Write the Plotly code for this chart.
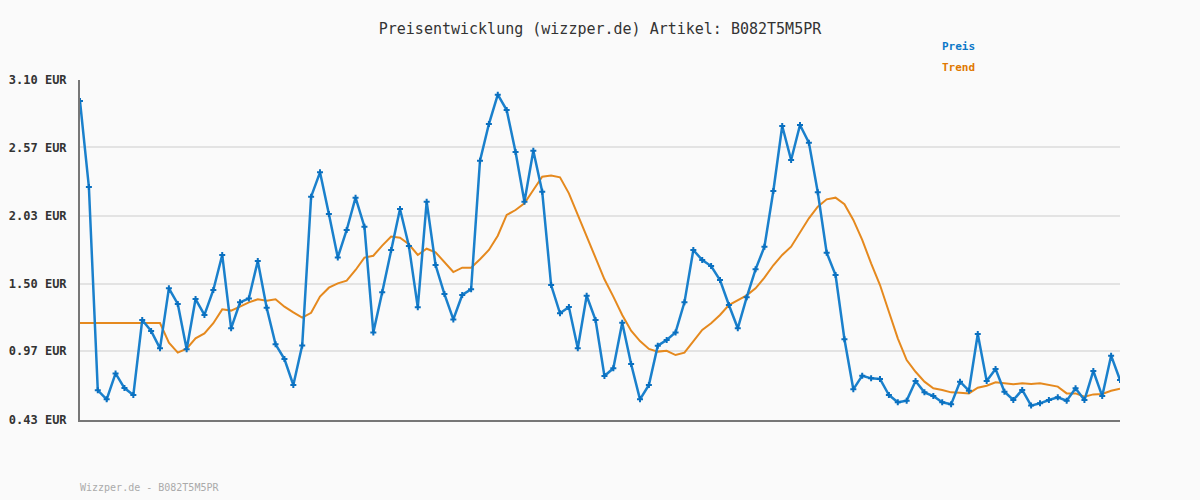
import plotly.graph_objects as go

preis = [2.935, 2.26, 0.663, 0.592, 0.796, 0.681, 0.626, 1.215, 1.129, 0.993,
         1.464, 1.341, 0.985, 1.38, 1.255, 1.451, 1.726, 1.15, 1.354, 1.385,
         1.679, 1.312, 1.024, 0.909, 0.705, 1.016, 2.184, 2.375, 2.048, 1.707,
         1.922, 2.176, 1.948, 1.118, 1.433, 1.765, 2.087, 1.796, 1.315, 2.144,
         1.647, 1.419, 1.22, 1.412, 1.456, 2.466, 2.754, 2.985, 2.864, 2.535,
         2.144, 2.545, 2.223, 1.49, 1.268, 1.317, 0.993, 1.406, 1.215, 0.776,
         0.836, 1.194, 0.87, 0.592, 0.705, 1.014, 1.058, 1.118, 1.354, 1.765,
         1.686, 1.639, 1.529, 1.333, 1.15, 1.393, 1.613, 1.791, 2.228, 2.739,
         2.472, 2.747, 2.608, 2.218, 1.744, 1.569, 1.064, 0.671, 0.778, 0.757,
         0.752, 0.626, 0.569, 0.582, 0.736, 0.647, 0.618, 0.569, 0.553, 0.731,
         0.66, 1.105, 0.736, 0.83, 0.652, 0.587, 0.666, 0.543, 0.561, 0.587,
         0.608, 0.582, 0.679, 0.587, 0.815, 0.618, 0.935, 0.744]

trend = [1.192, 1.192, 1.192, 1.192, 1.192, 1.192, 1.192, 1.192, 1.192, 1.192,
         1.037, 0.959, 0.99, 1.071, 1.11, 1.19, 1.299, 1.289, 1.32, 1.354,
         1.378, 1.367, 1.378, 1.32, 1.275, 1.234, 1.272, 1.399, 1.469, 1.503,
         1.524, 1.608, 1.705, 1.72, 1.799, 1.87, 1.862, 1.81, 1.726, 1.775,
         1.747, 1.673, 1.592, 1.626, 1.626, 1.692, 1.765, 1.877, 2.04, 2.079,
         2.131, 2.236, 2.341, 2.349, 2.336, 2.21, 2.04, 1.883, 1.713, 1.535,
         1.399, 1.255, 1.131, 1.05, 0.988, 0.967, 0.974, 0.94, 0.959, 1.05,
         1.137, 1.19, 1.255, 1.333, 1.372, 1.409, 1.464, 1.548, 1.645, 1.726,
         1.791, 1.901, 2.014, 2.105, 2.163, 2.176, 2.124, 2.001, 1.844, 1.66,
         1.49, 1.28, 1.071, 0.901, 0.809, 0.731, 0.679, 0.666, 0.647, 0.644,
         0.639, 0.684, 0.699, 0.726, 0.718, 0.71, 0.718, 0.713, 0.718, 0.705,
         0.692, 0.639, 0.639, 0.613, 0.631, 0.634, 0.66, 0.676]

tick_vals = [0.43, 0.97, 1.50, 2.03, 2.57, 3.10]
tick_text = ["0.43 EUR", "0.97 EUR", "1.50 EUR", "2.03 EUR", "2.57 EUR", "3.10 EUR"]

title_text = "Preisentwicklung (wizzper.de) Artikel: B082T5M5PR"
footer_text = "Wizzper.de - B082T5M5PR"

x = list(range(len(preis)))
mono = "DejaVu Sans Mono"
blue = "#1a80cc"
orange = "#e5891e"

fig = go.Figure()
fig.add_trace(go.Scatter(x=x, y=trend, mode="lines", name="Trend",
                         line=dict(color=orange, width=2), hoverinfo="skip"))
fig.add_trace(go.Scatter(x=x, y=preis, mode="lines+markers", name="Preis",
                         line=dict(color=blue, width=2.5),
                         marker=dict(symbol="cross", size=5, color="#0a70c0",
                                     line=dict(width=0))))

fig.update_layout(
    width=1200, height=500,
    margin=dict(l=80, r=80, t=80, b=80, autoexpand=False),
    paper_bgcolor="#fafafa", plot_bgcolor="#fafafa",
    showlegend=False,
    title=dict(text=title_text, x=0.5, xanchor="center", y=1 - 29 / 500,
               yanchor="middle", font=dict(family=mono, size=15, color="#333333")),
    xaxis=dict(range=[0, len(preis) - 1], showgrid=False, zeroline=False,
               showticklabels=False, ticks="", showline=True, automargin=False,
               linecolor="#777777", linewidth=2),
    yaxis=dict(range=[0.43, 3.10], tickvals=tick_vals, ticktext=tick_text,
               showgrid=True, gridcolor="#e3e3e3", gridwidth=2, zeroline=False,
               showline=True, linecolor="#777777", linewidth=2, ticks="",
               ticklabelstandoff=9, automargin=False,
               tickfont=dict(family=mono, size=12, color="#333333", weight="bold")),
    annotations=[
        dict(text="Preis", xref="paper", yref="paper", x=(940 - 80) / 1040,
             y=(420 - 47) / 340, xanchor="left", yanchor="middle", showarrow=False,
             font=dict(family=mono, size=11, color="#0a78c8", weight="bold")),
        dict(text="Trend", xref="paper", yref="paper", x=(940 - 80) / 1040,
             y=(420 - 68) / 340, xanchor="left", yanchor="middle", showarrow=False,
             font=dict(family=mono, size=11, color="#e07800", weight="bold")),
        dict(text=footer_text, xref="paper", yref="paper", x=-2 / 1040,
             y=(420 - 487) / 340, xanchor="left", yanchor="middle", showarrow=False,
             font=dict(family=mono, size=10, color="#aaaaaa")),
    ],
)

fig.write_html("out.html")
